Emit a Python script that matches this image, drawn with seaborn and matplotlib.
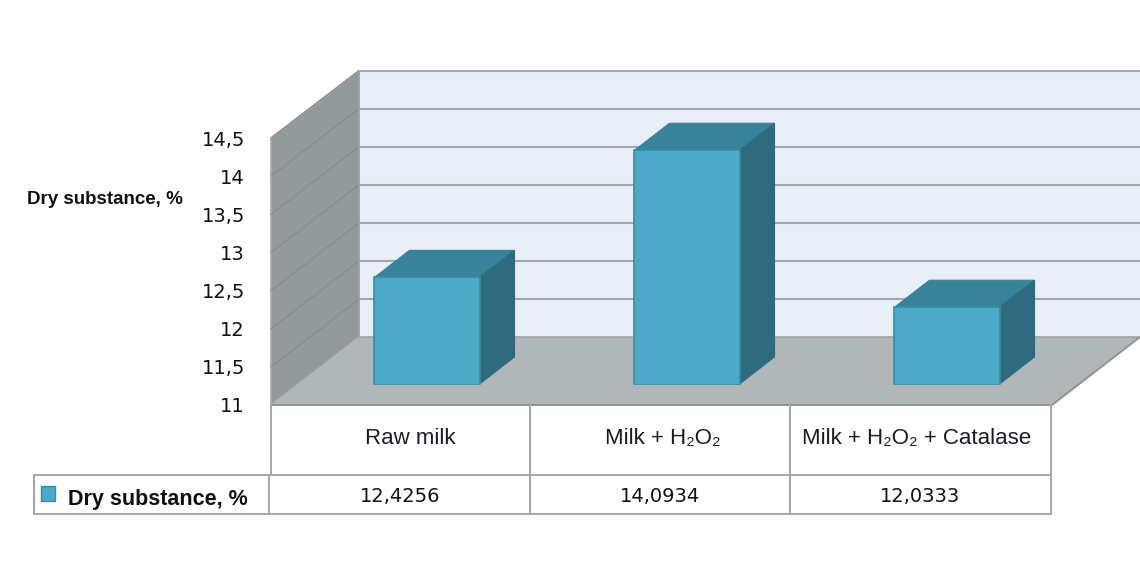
import matplotlib
matplotlib.use('Agg')
import matplotlib.pyplot as plt
from matplotlib.patches import Polygon, Rectangle
import pandas as pd
import seaborn as sns

categories = ['Raw milk', 'Milk + H₂O₂', 'Milk + H₂O₂ + Catalase']
values = [12.4256, 14.0934, 12.0333]
value_labels = ['12,4256', '14,0934', '12,0333']
y_ticks = [11, 11.5, 12, 12.5, 13, 13.5, 14, 14.5]
y_tick_labels = ['11', '11,5', '12', '12,5', '13', '13,5', '14', '14,5']
series_name = 'Dry substance, %'

W, H = 1140, 565
FRONT = '#4aaac8'
TOP = '#38829a'
SIDE = '#2f6b7e'
EDGE = '#3a8ba5'
LINE = '#a6a6a6'
SANS = ['Liberation Sans', 'DejaVu Sans']

sns.set_theme(style='white')
plt.rcParams['font.family'] = ['DejaVu Sans']

fig = plt.figure(figsize=(W / 100, H / 100), dpi=100, facecolor='white')

# background axes in pixels, holds the walls, floor and the table
bg = fig.add_axes([0, 0, 1, 1])
bg.set_xlim(0, W)
bg.set_ylim(H, 0)
bg.axis('off')

# back wall, left wall, floor
bg.add_patch(Polygon([(359, 71), (1140, 71), (1140, 337), (359, 337)], fc='#e8eff6', ec='none'))
bg.add_patch(Polygon([(271, 138), (359, 71), (359, 337), (271, 405)], fc='#939a9c', ec='#a8acae', lw=1.2))
bg.add_patch(Polygon([(359, 337), (1140, 337), (1052, 405), (271, 405)], fc='#b1b6b9', ec='none'))

# gridlines follow the value scale across both walls
px_per_unit = (405 - 138) / 3.5
for t, label in zip(y_ticks, y_tick_labels):
    y_front = 405 - (t - 11) * px_per_unit
    y_back = y_front - 67.5
    if t > 11:
        bg.plot([271, 359], [y_front, y_back], color='#868c8e', lw=0.9)
        bg.plot([359, 1140], [y_back, y_back], color='#a4a6a8', lw=1.5, solid_capstyle='butt')
    bg.text(245, y_front + 2, label, ha='right', va='center', fontsize=14, color='#111111')
bg.plot([359, 1140], [337, 337], color='#a0a2a4', lw=1.2)
bg.plot([271, 1052, 1140], [405, 405, 337], color='#8f9395', lw=1.4)
bg.plot([359, 359], [71, 337], color='#a0a2a4', lw=1.2)

bg.text(105, 200, series_name, ha='center', va='center', fontsize=13.5,
        fontweight='bold', family=SANS, color='#111111')

# bars, the axes sits at the middle depth of the box
y_base = 11.026
bar_ax = fig.add_axes([297 / W, 1 - 384 / H, 780 / W, (14.5 - y_base) * 76.2 / H])
bar_ax.patch.set_alpha(0)
df = pd.DataFrame({'category': categories, 'value': values})
sns.barplot(data=df, x='category', y='value', ax=bar_ax, color=FRONT, saturation=1,
            width=0.404, edgecolor=EDGE, linewidth=1.2)
bar_ax.set_ylim(y_base, 14.5)
bar_ax.set_xlim(-0.5, 2.5)
bar_ax.axis('off')

# side and top faces taken from the bars seaborn drew
dx, dy = 35, 27
to_bg = bg.transData.inverted()
for bar in bar_ax.patches:
    x0, x1 = bar.get_x(), bar.get_x() + bar.get_width()
    (l, top), (r, base) = to_bg.transform(bar_ax.transData.transform([(x0, bar.get_height()), (x1, y_base)]))
    bg.add_patch(Polygon([(l, top), (r, top), (r + dx, top - dy), (l + dx, top - dy)],
                         fc=TOP, ec=TOP, lw=0.8, zorder=5))
    bg.add_patch(Polygon([(r, top), (r + dx, top - dy), (r + dx, base - dy), (r, base)],
                         fc=SIDE, ec=SIDE, lw=0.8, zorder=5))
    bg.plot([l, r], [base, base], color=EDGE, lw=1.2, zorder=6)

# data table under the floor
cols = [271, 530, 790, 1051]
label_x = [410, 663, 917]
bg.plot([271, 271], [405, 475], color=LINE, lw=1.4)
for x in cols[1:]:
    bg.plot([x, x], [405, 514], color=LINE, lw=1.4)
bg.plot([34, 1051], [475, 475], color=LINE, lw=1.4)
bg.plot([34, 1051], [514, 514], color=LINE, lw=1.4)
bg.plot([34, 34], [475, 514], color=LINE, lw=1.4)
bg.plot([269, 269], [475, 514], color=LINE, lw=1.4)
for i in range(3):
    bg.text(label_x[i], 438, categories[i], ha='center', va='center', fontsize=16,
            family=SANS, color='#1a1a2a')
    bg.text((cols[i] + cols[i + 1]) / 2, 497, value_labels[i], ha='center', va='center',
            fontsize=14, color='#111111')
bg.add_patch(Rectangle((41, 486), 14, 15, fc=FRONT, ec=EDGE, lw=1))
bg.text(68, 499, series_name, ha='left', va='center', fontsize=15.5,
        fontweight='bold', family=SANS, color='#111111')

fig.savefig('out.png', dpi=100)
